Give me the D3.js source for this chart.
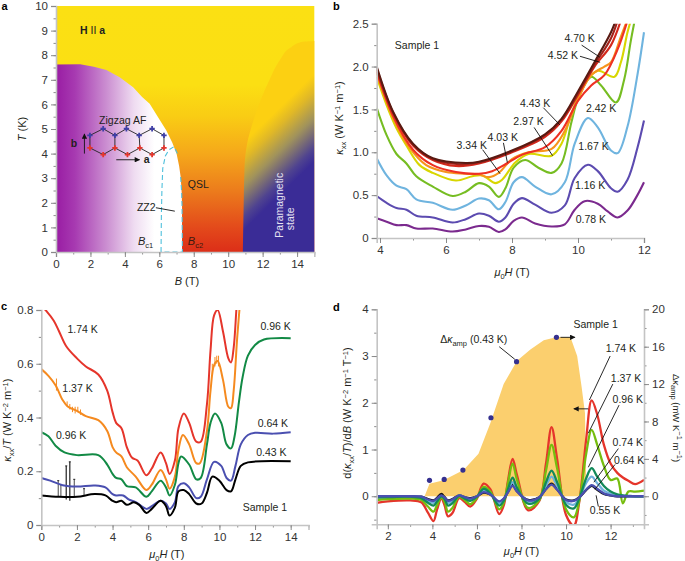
<!DOCTYPE html>
<html>
<head>
<meta charset="utf-8">
<script src="https://cdnjs.cloudflare.com/ajax/libs/d3/7.8.5/d3.min.js"></script>
<style>
	html, body { margin: 0; padding: 0; background: #fff; }
	svg { display: block; }
	text { font-family: "Liberation Sans", Arial, sans-serif; font-size: 10.5px; fill: #231f20; }
	.tick text { font-size: 11.5px; fill: #333; }
	.letter { font-weight: bold; font-size: 11px; fill: #000; }
</style>
</head>
<body>
<div id="chart-area"></div>
<script>

// ---- panel a: phase diagram
const afBoundary = [[0,7.62],[1.4,7.63],[2.2,7.53],[2.93,7.4],[3.7,7.1],[4.48,6.7],[5,6.3],[5.44,6.03],[6,5.4],[6.4,4.95],[6.75,4.45],[7,4],[7.15,3.5],[7.24,3.05],[7.3,2.4],[7.32,1.84],[7.32,0]];
const zz2Boundary = [[6.1,0],[6.12,1.5],[6.15,2.5],[6.2,3.4],[6.35,3.9],[6.55,4.15],[6.85,4.28],[7.05,4]];
const zz2Right = [[7.24,3.05],[7.3,2.4],[7.32,1.84],[7.34,0],[6.1,0]];
const paraBoundary = [[10.85,0],[10.9,2],[10.95,3.5],[11.1,4.4],[11.4,5.2],[11.9,6.2],[12.4,7],[13,7.8],[13.6,8.3],[14.3,8.55],[15,8.58],[15,0]];
const latticeTop = [[1.97,4.74],[2.74,5.01],[3.42,4.74],[4.09,5.01],[4.83,4.74],[5.58,5.01],[6.27,4.74]];
const latticeBottom = [[1.97,4.23],[2.74,3.96],[3.42,4.23],[4.15,3.96],[4.87,4.23],[5.58,3.96],[6.27,4.23]];
const latticeRungs = [0, 2, 4, 6];

// ---- panel b: kappa_xx vs field
const curvesB = [
	{label: "0.78 K", color: "#7b2a8e", x: [3.9,4.2,4.5,4.8,5.1,5.6,6.2,6.6,7,7.3,7.6,7.8,8.05,8.3,8.7,9.2,9.6,9.9,10.2,10.6,10.9,11.2,11.5,11.8,12],
		y: [.23,.19,.15,.15,.11,.11,.075,.1,.14,.13,.07,.1,.2,.24,.17,.135,.16,.33,.43,.4,.31,.24,.32,.5,.65]},
	{label: "1.16 K", color: "#5c4bb0", x: [3.9,4.2,4.5,4.8,5.1,5.6,6.2,6.6,7,7.3,7.6,7.8,8.05,8.3,8.7,9.2,9.6,9.9,10.3,10.6,11,11.2,11.5,11.8,12],
		y: [.49,.41,.35,.33,.26,.24,.18,.22,.285,.26,.19,.24,.4,.465,.39,.295,.38,.7,.855,.78,.58,.54,.68,1.05,1.37]},
	{label: "1.67 K", color: "#6fb4df", x: [3.9,4.2,4.5,4.8,5.1,5.6,6.2,6.6,7,7.3,7.6,7.8,8.05,8.3,8.7,9.2,9.6,9.9,10.3,10.6,11,11.2,11.5,11.8,12],
		y: [.93,.73,.61,.57,.45,.41,.33,.38,.46,.44,.335,.42,.65,.71,.6,.51,.65,1.1,1.4,1.29,1.02,.99,1.3,1.9,2.4]},
	{label: "2.42 K", color: "#76bd22", x: [3.9,4.2,4.5,4.8,5.1,5.6,6.2,6.6,7,7.3,7.6,7.8,8.05,8.4,8.8,9.2,9.5,9.8,10,10.4,10.7,11.15,11.4,11.6,11.75],
		y: [1.52,1.2,.98,.87,.72,.6,.49,.54,.64,.6,.48,.58,.82,.91,.82,.76,.87,1.35,1.62,1.88,1.78,1.58,1.85,2.3,2.6]},
	{label: "2.97 K", color: "#d8d600", x: [3.9,4.2,4.5,4.8,5.2,5.6,6.3,6.8,7.1,7.5,7.7,8.1,8.5,9.2,9.5,9.8,10.2,10.6,11.1,11.3,11.5,11.65],
		y: [1.88,1.55,1.28,1.08,.85,.76,.67,.72,.73,.64,.68,.88,.98,.96,1.1,1.45,1.8,1.95,1.88,2.05,2.4,2.6]},
	{label: "3.34 K", color: "#f7941d", x: [3.9,4.4,4.9,5.4,6,6.6,7,7.3,7.6,8,8.5,9.2,9.6,10,10.4,10.8,11,11.3,11.55],
		y: [1.92,1.4,1.05,.85,.77,.75,.74,.71,.76,.92,1,1.04,1.25,1.62,1.9,2,2.05,2.35,2.6]},
	{label: "4.03 K", color: "#ee3124", x: [3.9,4.4,5,5.6,6.3,7,7.4,7.8,8.3,9,9.5,10,10.4,10.8,11.2,11.55],
		y: [1.94,1.42,1.03,.85,.77,.75,.78,.86,.97,1.06,1.25,1.6,1.78,1.9,2.2,2.6]},
	{label: "4.43 K", color: "#d4281c", x: [3.9,4.4,5,5.6,6.3,7,8,9,9.5,10,10.5,11,11.35],
		y: [1.96,1.45,1.08,.91,.84,.87,1,1.18,1.36,1.67,2,2.25,2.6]},
	{label: "4.52 K", color: "#a3211a", x: [3.9,4.4,5,5.6,6.4,7,8,9,9.5,10,10.5,11,11.25],
		y: [1.98,1.46,1.09,.92,.86,.88,1.01,1.2,1.38,1.69,2.02,2.33,2.6]},
	{label: "4.70 K", color: "#5a1a12", x: [3.9,4.4,5,5.6,6.6,7,8,9,9.5,10,10.5,11,11.2],
		y: [2,1.47,1.1,.93,.875,.89,1.02,1.21,1.39,1.71,2.05,2.4,2.6]}
];

// ---- panel c: kappa_xx/T vs field
const curvesC = [
	{label: "1.74 K", color: "#e5352b", x: [0,.3,.7,1,1.4,2,2.5,3.2,3.7,4,4.2,4.5,4.8,5.1,5.4,5.9,6.2,6.7,7,7.2,7.5,7.7,8,8.3,8.7,8.95,9.3,9.5,9.7,9.9,10.2,10.5,10.65,10.8,10.95,11.05],
		y: [.815,.795,.76,.72,.665,.62,.59,.56,.5,.42,.38,.36,.29,.25,.24,.185,.21,.27,.23,.19,.24,.36,.415,.38,.31,.31,.45,.65,.78,.8,.72,.62,.605,.66,.8,.9]},
	{label: "1.37 K", color: "#f58a1f", x: [0,.4,.8,1.2,1.5,2,2.5,3.2,3.7,4,4.2,4.5,4.8,5.3,5.9,6.2,6.7,7,7.2,7.5,7.7,7.95,8.3,8.7,8.9,9.3,9.5,9.7,9.9,10.2,10.5,10.65,10.8,11,11.25],
		y: [.58,.555,.52,.465,.44,.425,.405,.39,.35,.29,.27,.255,.215,.18,.13,.15,.205,.17,.135,.18,.28,.335,.3,.23,.23,.35,.5,.595,.61,.54,.44,.435,.5,.7,.9]},
	{label: "0.96 K", color: "#128a45", x: [0,.4,.8,1.3,2,3.2,3.7,4,4.2,4.5,4.8,5.3,5.9,6.2,6.7,7,7.2,7.5,7.7,7.85,8.3,8.7,8.95,9.3,9.5,9.75,10.1,10.4,10.65,10.85,11.1,11.3,11.6,12,12.5,14],
		y: [.345,.33,.295,.27,.26,.26,.225,.19,.175,.17,.145,.14,.105,.125,.165,.14,.11,.15,.23,.255,.225,.17,.175,.3,.38,.415,.38,.3,.285,.33,.46,.55,.63,.67,.69,.695]},
	{label: "0.64 K", color: "#4a4fb0", x: [0,.5,1.2,2,3,3.6,4,4.2,4.6,4.9,5.3,5.9,6.2,6.7,7,7.2,7.5,7.7,8,8.3,8.7,8.95,9.3,9.7,10.1,10.4,10.65,10.9,11.2,11.6,12,13,14],
		y: [.175,.165,.148,.143,.147,.14,.115,.11,.11,.095,.085,.06,.07,.09,.08,.06,.085,.145,.155,.14,.1,.105,.17,.235,.22,.175,.165,.22,.3,.335,.343,.34,.345]},
	{label: "0.43 K", color: "#000000", x: [0,1,2,3,3.6,4,4.2,4.5,4.8,5.2,5.5,5.9,6.2,6.7,7,7.2,7.5,7.7,8,8.3,8.7,9,9.3,9.6,10,10.4,10.65,10.9,11.2,11.6,14],
		y: [.11,.105,.105,.115,.11,.09,.085,.09,.075,.085,.075,.045,.06,.09,.07,.035,.065,.125,.13,.115,.08,.08,.12,.18,.165,.13,.125,.17,.22,.233,.237]}
];
const errorX = [.95,1.1,1.4,1.6,1.85,2.4];
const errorLow = [.105,.105,.095,.09,.105,.11];
const errorHigh = [.165,.15,.22,.235,.17,.135];
const errorOrangeX = [.85,1.45,1.6,1.75,1.9,2.05,2.2,9.6,9.75,9.85,9.95];
const errorOrangeLow = [.5,.44,.43,.42,.415,.42,.41,.56,.59,.6,.59];
const errorOrangeHigh = [.545,.46,.45,.44,.44,.44,.43,.6,.625,.63,.63];

// ---- panel d: derivative curves and oscillation amplitude
const fieldD = [1.5,2,3,3.5,3.8,4.05,4.2,4.4,4.55,4.7,4.9,5.2,5.45,5.7,6,6.3,6.6,7,7.2,7.4,7.6,7.8,8.3,8.8,9.1,9.35,9.6,10,10.35,10.6,10.9,11.15,11.4,11.7,12,12.3,12.55,12.8,13.1,13.5];
const dk055 = [0,0,0,-.01,-.06,-.09,-.04,.05,-.02,-.09,-.06,.02,-.02,-.04,0,.08,.04,-.13,-.06,.1,.25,.11,-.08,-.02,.16,.27,.15,-.07,-.09,-.02,.13,.22,.14,.05,.02,0,0,0,0,0];
const dk064 = [0,0,0,-.01,-.07,-.1,-.05,.02,-.03,-.1,-.07,.02,-.02,-.05,0,.09,.04,-.11,-.05,.09,.22,.1,-.09,-.02,.15,.25,.14,-.08,-.1,-.02,.14,.24,.16,.06,.02,0,0,0,0,0];
const dk074 = [-.01,-.01,0,-.02,-.1,-.14,-.08,.01,-.04,-.14,-.1,.02,-.03,-.07,0,.12,.05,-.15,-.07,.12,.3,.14,-.11,-.03,.22,.42,.22,-.12,-.18,-.03,.28,.42,.28,.12,.05,.02,.01,0,0,0];
const dk096 = [-.03,-.02,-.01,-.04,-.14,-.2,-.12,0,-.06,-.2,-.15,.01,-.05,-.1,-.01,.16,.06,-.2,-.1,.16,.4,.18,-.16,-.05,.3,.55,.3,-.18,-.26,-.04,.38,.6,.42,.22,.1,.04,.02,.01,0,0];
const dk137 = [-.08,-.06,-.05,-.08,-.22,-.33,-.2,-.03,-.12,-.33,-.25,-.01,-.08,-.17,-.03,.2,.1,-.28,-.14,.3,.7,.35,-.25,-.08,.55,1.1,.6,-.28,-.45,-.08,.9,1.42,1.1,.65,.35,.38,-.15,.1,.1,.12];
const dk174 = [-.14,-.11,-.09,-.13,-.35,-.53,-.3,-.05,-.2,-.43,-.36,-.04,-.12,-.22,-.05,.27,.15,-.38,-.2,.35,.8,.45,-.3,-.1,.7,1.48,.8,-.4,-.63,-.1,1.2,2.05,1.75,1.1,.7,.5,.4,.33,.26,.35];
const curvesD = [
	{label: "1.74 K", color: "#e5352b", y: dk174},
	{label: "1.37 K", color: "#76bd0e", y: dk137},
	{label: "0.55 K", color: "#111111", y: dk055},
	{label: "0.74 K", color: "#6fb1dc", y: dk074},
	{label: "0.96 K", color: "#128a5a", y: dk096},
	{label: "0.64 K", color: "#4a4fb0", y: dk064}
];
const ampField = [3.65,3.87,4.5,5.4,6.07,6.6,7.2,7.8,8.4,9,9.6,10.2,10.5,10.7,10.85,10.9,10.65];
const ampValue = [0,1.35,1.7,2.8,4.55,7.8,12,14.5,15.7,16.7,17.05,17,15,11.7,8.9,2,0];
const dotField = [3.87,4.53,5.37,6.63,7.78,9.57];
const dotValue = [1.7,1.8,2.8,8.4,14.4,17];

const axisGrey = "#c4c4c4";
const tickGrey = "#8a8a8a";

let svg = d3.select("#chart-area").append("svg")
	.attr("width", 685)
	.attr("height", 561);

let defs = svg.append("defs");

// gradients for the phase diagram
function addGradient(id, attrs, stops) {
	let g = defs.append("linearGradient").attr("id", id);
	Object.keys(attrs).forEach(k => g.attr(k, attrs[k]));
	stops.forEach(s => g.append("stop").attr("offset", s[0]).attr("stop-color", s[1]));
}

function clipRect(id, x, y, w, h) {
	defs.append("clipPath").attr("id", id).append("rect")
		.attr("x", x).attr("y", y).attr("width", w).attr("height", h);
}

// bottom/left/right axes with grey line and a separate set of minor ticks
function drawAxis(orient, scale, pos, major, minor, fmt) {
	let isX = orient === "bottom";
	let maker = isX ? d3.axisBottom(scale) : (orient === "left" ? d3.axisLeft(scale) : d3.axisRight(scale));
	let g = svg.append("g")
		.attr("transform", isX ? "translate(0," + pos + ")" : "translate(" + pos + ",0)");
	g.call(maker.tickValues(minor).tickSize(2.5).tickFormat(""));
	g.call(g2 => g2.selectAll("line").attr("stroke", tickGrey));
	let g3 = svg.append("g")
		.attr("transform", isX ? "translate(0," + pos + ")" : "translate(" + pos + ",0)");
	let maker2 = isX ? d3.axisBottom(scale) : (orient === "left" ? d3.axisLeft(scale) : d3.axisRight(scale));
	g3.call(maker2.tickValues(major).tickSize(5).tickPadding(3).tickFormat(fmt));
	g3.selectAll("line").attr("stroke", tickGrey);
	g3.selectAll("path").attr("stroke", axisGrey).attr("stroke-width", 1.6);
	g.select("path").attr("stroke", "none");
	return g3;
}

// text helpers
function label(x, y, str, cls) {
	return svg.append("text").attr("x", x).attr("y", y).attr("class", cls || null).text(str);
}

function leader(x0, y0, x1, y1) {
	svg.append("line")
		.attr("x1", x0).attr("y1", y0).attr("x2", x1).attr("y2", y1)
		.attr("stroke", "#111").attr("stroke-width", 0.9);
}

function richText(x, y, rotate, parts, size) {
	let t = svg.append("text")
		.attr("transform", "translate(" + x + "," + y + ") rotate(" + rotate + ")")
		.attr("text-anchor", "middle")
		.style("font-size", size ? size + "px" : null);
	parts.forEach(p => {
		let s = t.append("tspan").text(p.t);
		if (p.i) s.style("font-style", "italic");
		if (p.sub) s.attr("dy", 2.5).style("font-size", "7.5px");
		if (p.sup) s.attr("dy", -3.5).style("font-size", "7.5px");
		if (p.back) s.attr("dy", p.back);
	});
	return t;
}

defs.append("marker").attr("id", "head")
	.attr("viewBox", "0 0 10 10").attr("refX", 9).attr("refY", 5)
	.attr("markerWidth", 7).attr("markerHeight", 6).attr("orient", "auto")
	.append("path").attr("d", "M0,0 L10,5 L0,10 Z").attr("fill", "#111");

function arrow(x0, y0, x1, y1) {
	svg.append("line")
		.attr("x1", x0).attr("y1", y0).attr("x2", x1).attr("y2", y1)
		.attr("stroke", "#111").attr("stroke-width", 0.9)
		.attr("marker-end", "url(#head)");
}

// ==== panel a ====
let xA = d3.scaleLinear().domain([0, 15]).range([56, 314.3]);
let yA = d3.scaleLinear().domain([0, 10]).range([252, 6]);

addGradient("bgGrad", {x1: 0, y1: 1, x2: 0, y2: 0}, [
	[0, "#dc2e18"], [0.1, "#e34a1b"], [0.25, "#ec7c1c"], [0.4, "#f5a81a"], [0.55, "#f9cc14"], [0.68, "#fbdf13"], [1, "#fbe013"]
]);
addGradient("afGrad", {x1: 0, y1: 0, x2: 1, y2: 0}, [
	[0, "#991ca3"], [0.15, "#a73ab1"], [0.4, "#cb8ed1"], [0.62, "#efdcf1"], [0.78, "#ffffff"], [1, "#ffffff"]
]);
addGradient("paraGrad", {gradientUnits: "userSpaceOnUse", x1: xA(14), y1: yA(3), x2: xA(11.46), y2: yA(4.83)}, [
	[0, "#3a2c96"], [0.15, "#4f4390"], [0.5, "#a0925c"], [0.8, "#e0b827"], [1, "#fcd012"]
]);

svg.append("rect")
	.attr("x", xA(0)).attr("y", yA(10))
	.attr("width", xA(15) - xA(0)).attr("height", yA(0) - yA(10))
	.attr("fill", "url(#bgGrad)");

let areaA = d3.line().x(d => xA(d[0])).y(d => yA(d[1]));

svg.append("path")
	.attr("d", d3.line().x(d => xA(d[0])).y(d => yA(d[1])).curve(d3.curveMonotoneY)(paraBoundary))
	.attr("fill", "url(#paraGrad)");

svg.append("path")
	.attr("d", areaA(afBoundary.concat([[0, 0]])))
	.attr("fill", "url(#afGrad)");

// ZZ2 dashed region
[zz2Boundary, zz2Right].forEach(pts => {
	svg.append("path")
		.attr("d", d3.line().x(d => xA(d[0])).y(d => yA(d[1])).curve(d3.curveLinear)(pts))
		.attr("fill", "none")
		.attr("stroke", "#4fc0dc")
		.attr("stroke-width", 1.1)
		.attr("stroke-dasharray", "5,3");
});

// lattice
let latticeLine = d3.line().x(d => xA(d[0])).y(d => yA(d[1]));
[latticeTop, latticeBottom].forEach(pts => {
	svg.append("path").attr("d", latticeLine(pts)).attr("fill", "none").attr("stroke", "#222").attr("stroke-width", 0.9);
});
latticeRungs.forEach(i => {
	svg.append("line")
		.attr("x1", xA(latticeTop[i][0])).attr("y1", yA(latticeTop[i][1]))
		.attr("x2", xA(latticeBottom[i][0])).attr("y2", yA(latticeBottom[i][1]))
		.attr("stroke", "#222").attr("stroke-width", 0.9);
});
let crossSym = d3.symbol().type(d3.symbolCross).size(16);
svg.selectAll(".spinTop").data(latticeTop).enter().append("path")
	.attr("d", crossSym)
	.attr("transform", d => "translate(" + xA(d[0]) + "," + yA(d[1]) + ")")
	.attr("fill", "#3f3fa8");
svg.selectAll(".spinBottom").data(latticeBottom).enter().append("path")
	.attr("d", crossSym)
	.attr("transform", d => "translate(" + xA(d[0]) + "," + yA(d[1]) + ")")
	.attr("fill", "#e5352b");

arrow(xA(1.65), yA(4.0), xA(1.65), yA(4.8));
arrow(xA(3.5), yA(3.75), xA(4.85), yA(3.75));
svg.append("text").attr("x", xA(5.1)).attr("y", yA(3.6)).style("font-weight", "bold").text("a");
svg.append("text").attr("x", xA(0.85)).attr("y", yA(4.28)).style("font-weight", "bold").text("b");

let hA = svg.append("text").attr("x", xA(1.4)).attr("y", yA(8.88)).style("font-weight", "bold");
hA.append("tspan").text("H");
hA.append("tspan").style("font-weight", "normal").text(" II ");
hA.append("tspan").text("a");

label(xA(2.5), yA(5.22), "Zigzag AF");
label(xA(7.65), yA(2.6), "QSL");
label(xA(4.7), yA(1.68), "ZZ2");
leader(xA(5.8), yA(1.8), xA(6.9), yA(1.66));

richText(xA(5.2), yA(0.27), 0, [{t: "B", i: true}, {t: "c1", sub: true}], 11);
richText(xA(8.1), yA(0.27), 0, [{t: "B", i: true}, {t: "c2", sub: true}], 11).style("fill", "#3a1a10");

svg.append("text")
	.attr("transform", "translate(" + xA(13.2) + "," + yA(1.9) + ") rotate(-90)")
	.attr("text-anchor", "middle").style("fill", "#e6e2f2").text("Paramagnetic");
svg.append("text")
	.attr("transform", "translate(" + xA(13.85) + "," + yA(1.35) + ") rotate(-90)")
	.attr("text-anchor", "middle").style("fill", "#e6e2f2").text("state");

drawAxis("bottom", xA, yA(0), d3.range(0, 15, 2), d3.range(0, 16, 1), d3.format("d"));
drawAxis("left", yA, xA(0), d3.range(0, 11, 1), d3.range(0, 10.5, 0.5), d3.format("d"));

richText(26, yA(5), -90, [{t: "T", i: true}, {t: " (K)"}], 11);
richText(xA(7.6), 285, 0, [{t: "B", i: true}, {t: " (T)"}], 11);

// ==== panel b ====
let xB = d3.scaleLinear().domain([3.9, 12]).range([376.7, 644]);
let yB = d3.scaleLinear().domain([0, 2.5]).range([238, 23.7]);

clipRect("clipB", 376.7, 23.7, 270, 215);

let lineB = d3.line().x(d => xB(d[0])).y(d => yB(d[1])).curve(d3.curveCatmullRom.alpha(0.5));

svg.append("g").attr("clip-path", "url(#clipB)")
	.selectAll("path").data(curvesB).enter().append("path")
	.attr("d", c => lineB(c.x.map((v, i) => [v, c.y[i]])))
	.attr("fill", "none")
	.attr("stroke", c => c.color)
	.attr("stroke-width", 2.1);

drawAxis("bottom", xB, yB(0), d3.range(4, 13, 2), d3.range(4, 13, 1), d3.format("d"));
drawAxis("left", yB, xB.range()[0], [0, .5, 1, 1.5, 2, 2.5], d3.range(0, 2.6, .25), v => v === 0 ? "0" : d3.format(".1f")(v));

label(xB(4.45), yB(2.21), "Sample 1");
label(xB(9.59), yB(2.29), "4.70 K");
label(xB(9.08), yB(2.09), "4.52 K");
label(xB(8.24), yB(1.53), "4.43 K");
label(xB(8.04), yB(1.32), "2.97 K");
label(xB(7.26), yB(1.135), "4.03 K");
label(xB(6.32), yB(1.04), "3.34 K");
label(xB(10.24), yB(1.47), "2.42 K");
label(xB(10.01), yB(1.03), "1.67 K");
label(xB(9.91), yB(.57), "1.16 K");
label(xB(9.93), yB(.18), "0.78 K");
leader(xB(10.11), yB(2.25), xB(10.66), yB(2.11));
leader(xB(10.06), yB(2.12), xB(10.67), yB(2.05));
leader(xB(8.95), yB(1.52), xB(9.45), yB(1.32));
leader(xB(8.67), yB(1.29), xB(9.23), yB(.96));
leader(xB(7.74), yB(1.11), xB(7.86), yB(.88));
leader(xB(7.11), yB(1.03), xB(7.64), yB(.75));

richText(343, yB(1.4), -90, [{t: "κ", i: true}, {t: "xx", sub: true}, {t: " (W K", back: -2.5}, {t: "−1", sup: true}, {t: " m", back: 3.5}, {t: "−1", sup: true}, {t: ")", back: 3.5}], 11);
richText(xB(8), 276, 0, [{t: "μ", i: true}, {t: "0", sub: true}, {t: "H", i: true, back: -2.5}, {t: " (T)"}], 11);

// ==== panel c ====
let xC = d3.scaleLinear().domain([0, 15]).range([41.3, 308.5]);
let yC = d3.scaleLinear().domain([0, 0.8]).range([525, 310]);

clipRect("clipC", 41.3, 310, 268, 215);

let lineC = d3.line().x(d => xC(d[0])).y(d => yC(d[1])).curve(d3.curveCatmullRom.alpha(0.5));

// error bars under the 0.43 K curve
errorX.forEach((v, i) => {
	svg.append("line")
		.attr("x1", xC(v)).attr("x2", xC(v))
		.attr("y1", yC(errorLow[i])).attr("y2", yC(errorHigh[i]))
		.attr("stroke", "#333").attr("stroke-width", i === 2 || i === 3 ? 1.3 : 0.9);
	svg.append("line")
		.attr("x1", xC(v) - 1).attr("x2", xC(v) + 1)
		.attr("y1", yC(errorHigh[i])).attr("y2", yC(errorHigh[i]))
		.attr("stroke", "#222").attr("stroke-width", 1);
});

svg.append("g").attr("clip-path", "url(#clipC)")
	.selectAll("path").data(curvesC).enter().append("path")
	.attr("d", c => lineC(c.x.map((v, i) => [v, c.y[i]])))
	.attr("fill", "none")
	.attr("stroke", c => c.color)
	.attr("stroke-width", 2);

errorOrangeX.forEach((v, i) => {
	svg.append("line")
		.attr("x1", xC(v)).attr("x2", xC(v))
		.attr("y1", yC(errorOrangeLow[i])).attr("y2", yC(errorOrangeHigh[i]))
		.attr("stroke", "#f58a1f").attr("stroke-width", 1);
});

drawAxis("bottom", xC, yC(0), d3.range(0, 15, 2), d3.range(0, 16, 1), d3.format("d"));
drawAxis("left", yC, xC(0), [0, .2, .4, .6, .8], d3.range(0, .81, .1), v => v === 0 ? "0" : d3.format(".1f")(v));

label(xC(1.47), yC(.713), "1.74 K");
label(xC(1.18), yC(.496), "1.37 K");
label(xC(.82), yC(.32), "0.96 K");
label(xC(12.3), yC(.725), "0.96 K");
label(xC(12.15), yC(.364), "0.64 K");
label(xC(12.06), yC(.257), "0.43 K");
label(xC(11.31), yC(.052), "Sample 1");

richText(11, yC(.39), -90, [{t: "κ", i: true}, {t: "xx", sub: true}, {t: "/", back: -2.5}, {t: "T", i: true}, {t: " (W K"}, {t: "−2", sup: true}, {t: " m", back: 3.5}, {t: "−1", sup: true}, {t: ")", back: 3.5}], 11);
richText(xC(7.05), 558, 0, [{t: "μ", i: true}, {t: "0", sub: true}, {t: "H", i: true, back: -2.5}, {t: " (T)"}], 11);

// ==== panel d ====
let xD = d3.scaleLinear().domain([1.5, 13.5]).range([376.7, 644]);
let yD = d3.scaleLinear().domain([-0.6, 4]).range([524.3, 309.3]);
let yR = d3.scaleLinear().domain([-3, 20]).range([524.3, 309.3]);

clipRect("clipD", 376.7, 309.3, 268, 215);

// amplitude area
svg.append("path")
	.attr("d", d3.line().x((d, i) => xD(d)).y((d, i) => yR(ampValue[i]))(ampField))
	.attr("fill", "#fbcf6e");

let lineD = d3.line().x(d => xD(d[0])).y(d => yD(d[1])).curve(d3.curveCatmullRom.alpha(0.5));

svg.append("g").attr("clip-path", "url(#clipD)")
	.selectAll("path").data(curvesD).enter().append("path")
	.attr("d", c => lineD(fieldD.map((v, i) => [v, c.y[i]])))
	.attr("fill", "none")
	.attr("stroke", c => c.color)
	.attr("stroke-width", 2.3);

svg.selectAll(".ampDot").data(dotField).enter().append("circle")
	.attr("cx", d => xD(d))
	.attr("cy", (d, i) => yR(dotValue[i]))
	.attr("r", 2.6)
	.attr("fill", "#35308f");

drawAxis("bottom", xD, yD(-0.6), d3.range(2, 14, 2), d3.range(2, 14, 1), d3.format("d"));
drawAxis("left", yD, xD(1.5), [0, 1, 2, 3, 4], d3.range(-.5, 4.1, .5), d3.format("d"));
drawAxis("right", yR, xD(13.5), [0, 4, 8, 12, 16, 20], d3.range(-2, 21, 2), d3.format("d"));

arrow(xD(9.75), yR(17), xD(10.4), yR(17));
arrow(xD(11.0), yD(1.87), xD(10.35), yD(1.87));
label(xD(10.33), yD(3.61), "Sample 1");
label(xD(12.09), yD(2), "0.96 K");
label(xD(11.78), yD(3.09), "1.74 K");
label(xD(12.01), yD(2.45), "1.37 K");
label(xD(12.09), yD(1.07), "0.74 K");
label(xD(12.15), yD(.7), "0.64 K");
label(xD(11.07), yD(-.39), "0.55 K");
leader(xD(11.98), yD(3.0), xD(11.05), yD(2.06));
leader(xD(12.1), yD(2.4), xD(11), yD(1.35));
leader(xD(12.38), yD(1.95), xD(11), yD(.62));
leader(xD(12.35), yD(1.02), xD(11.25), yD(.3));
leader(xD(12.2), yD(.68), xD(11.3), yD(.15));
leader(xD(11.45), yD(-.22), xD(11.35), yD(.02));
leader(xD(7.0), yD(3.2), xD(7.7), yD(2.93));

let dk = svg.append("text").attr("x", xD(4.35)).attr("y", yD(3.27));
dk.append("tspan").text("Δ");
dk.append("tspan").style("font-style", "italic").text("κ");
dk.append("tspan").attr("dy", 2.5).style("font-size", "7.5px").text("amp");
dk.append("tspan").attr("dy", -2.5).text(" (0.43 K)");

richText(351, 413, -90, [{t: "d("}, {t: "κ", i: true}, {t: "xx", sub: true}, {t: "/", back: -2.5}, {t: "T", i: true}, {t: ")/d"}, {t: "B", i: true}, {t: " (W K"}, {t: "−2", sup: true}, {t: " m", back: 3.5}, {t: "−1", sup: true}, {t: " T", back: 3.5}, {t: "−1", sup: true}, {t: ")", back: 3.5}], 11);
richText(673, 418, 90, [{t: "Δ"}, {t: "κ", i: true}, {t: "amp", sub: true}, {t: " (mW K", back: -2.5}, {t: "−1", sup: true}, {t: " m", back: 3.5}, {t: "−1", sup: true}, {t: ")", back: 3.5}], 9.5);
richText(xD(8), 555, 0, [{t: "μ", i: true}, {t: "0", sub: true}, {t: "H", i: true, back: -2.5}, {t: " (T)"}], 11);

// panel letters
label(1.5, 10, "a", "letter");
label(333, 10, "b", "letter");
label(1, 310, "c", "letter");
label(333, 311, "d", "letter");

</script>
</body>
</html>
